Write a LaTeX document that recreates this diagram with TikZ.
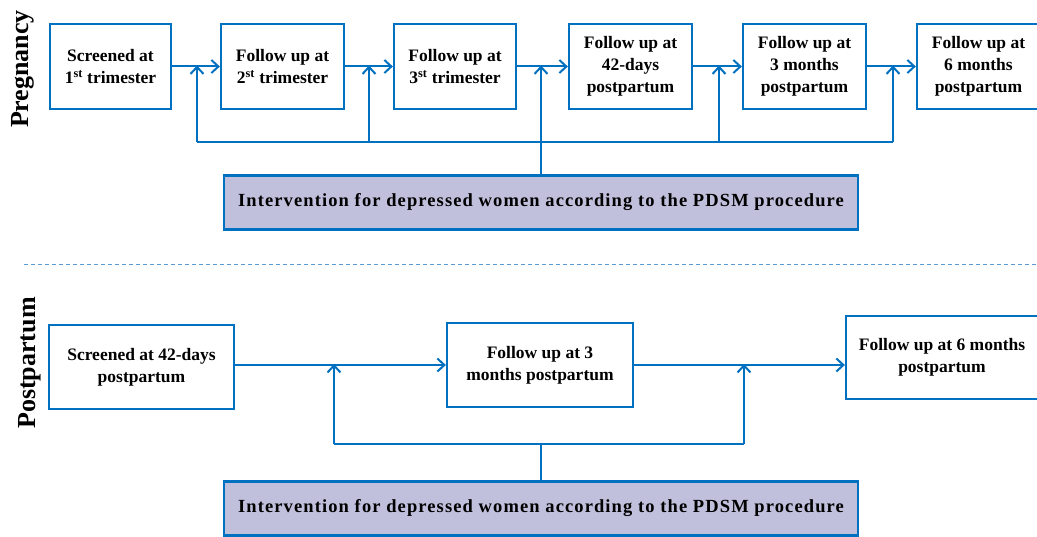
\documentclass[tikz,border=0pt]{standalone}
\usepackage{fontspec}
\setmainfont{Liberation Serif}
\newfontfamily\ivfont[LetterSpace=6]{Liberation Serif}
\usetikzlibrary{arrows.meta}
\definecolor{boxblue}{RGB}{0,112,192}
\definecolor{ivfill}{RGB}{192,192,220}
\definecolor{dashblue}{RGB}{91,155,213}
\tikzset{
  stagebox/.style={draw=boxblue, line width=2.3pt, fill=white, align=center,
    minimum height=85pt, inner sep=2pt,
    font=\fontsize{17.5}{22}\selectfont\bfseries},
  ivbox/.style={draw=boxblue, line width=2.3pt, fill=ivfill,
    minimum width=634pt, minimum height=54pt, inner sep=0pt,
    font=\fontsize{18.5}{22}\selectfont\ivfont\bfseries},
  conn/.style={draw=boxblue, line width=2pt},
  arr/.style={conn, -{Straight Barb[length=7pt,width=13pt,line width=2pt]}},
  sidelabel/.style={rotate=90, font=\fontsize{26}{30}\selectfont\bfseries}
}
\begin{document}
\begin{tikzpicture}[x=1pt,y=-1pt]
\useasboundingbox (0,0) rectangle (1037,537);
\clip (0,0) rectangle (1037,537);
% side labels
\node[sidelabel] (lp) at (23,69) {Pregnancy};
\node[sidelabel] (lq) at (30,363) {Postpartum};
% top row
\node[stagebox, minimum width=121pt] (b1) at (110.5,66.5) {Screened at\\1\textsuperscript{st} trimester};
\node[stagebox, minimum width=123pt] (b2) at (282.5,66.5) {Follow up at\\2\textsuperscript{st} trimester};
\node[stagebox, minimum width=122pt] (b3) at (455,66.5) {Follow up at\\3\textsuperscript{st} trimester};
\node[stagebox, minimum width=123pt] (b4) at (630.5,66.5) {Follow up at\\42-days\\postpartum};
\node[stagebox, minimum width=123pt] (b5) at (804.5,66.5) {Follow up at\\3 months\\postpartum};
\node[stagebox, minimum width=123pt] (b6) at (978.5,66.5) {Follow up at\\6 months\\postpartum};
\draw[arr] (b1) -- (b2);
\draw[arr] (b2) -- (b3);
\draw[arr] (b3) -- (b4);
\draw[arr] (b4) -- (b5);
\draw[arr] (b5) -- (b6);
\node[ivbox] (iv1) at (541,202.5) {Intervention for depressed women according to the PDSM procedure};
\coordinate (f1) at (197,142);
\coordinate (f2) at (369,142);
\coordinate (f4) at (719,142);
\coordinate (f5) at (893,142);
\draw[conn] (f1) -- (f5);
\draw[arr] (f1) -- ([yshift=1pt]f1 |- b1.east);
\draw[arr] (f2) -- ([yshift=1pt]f2 |- b1.east);
\draw[arr] (iv1.north) -- ([yshift=1pt]iv1.north |- b1.east);
\draw[arr] (f4) -- ([yshift=1pt]f4 |- b1.east);
\draw[arr] (f5) -- ([yshift=1pt]f5 |- b1.east);
% separator
\coordinate (s1) at (24,265);
\coordinate (s2) at (1037,265);
\draw[dashblue, line width=1pt, dash pattern=on 4pt off 3pt] (s1) -- (s2);
% bottom row
\node[stagebox, minimum width=185pt, minimum height=84pt] (pa) at (141.5,367) {Screened at 42-days\\postpartum};
\node[stagebox, minimum width=186pt, minimum height=84pt] (pb) at (540,365) {Follow up at 3\\months postpartum};
\node[stagebox, minimum width=192pt, minimum height=83pt] (pc) at (942,357.5) {Follow up at 6 months\\postpartum};
\draw[arr] (pa.east |- pb.east) -- (pb.west);
\draw[arr] (pb.east) -- (pc.west |- pb.east);
\node[ivbox] (iv2) at (541,508.5) {Intervention for depressed women according to the PDSM procedure};
\coordinate (g1) at (334,444);
\coordinate (g2) at (744,444);
\draw[conn] (g1) -- (g2);
\draw[conn] (iv2.north) -- (iv2.north |- g1);
\draw[arr] (g1) -- ([yshift=1pt]g1 |- pb.east);
\draw[arr] (g2) -- ([yshift=1pt]g2 |- pb.east);
\end{tikzpicture}
\end{document}
